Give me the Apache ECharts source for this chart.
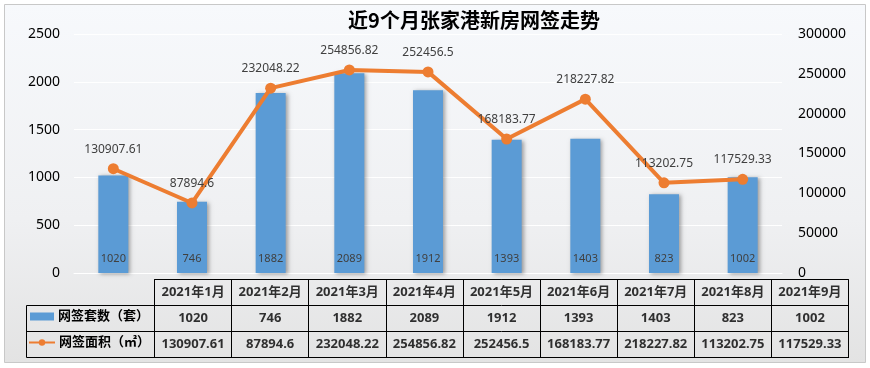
<!DOCTYPE html>
<html><head><meta charset="utf-8">
<script src="https://cdn.jsdelivr.net/npm/echarts@6/dist/echarts.min.js"></script>
<style>html,body{margin:0;padding:0;background:#fff}#c{width:870px;height:368px}</style>
</head><body><div id="c"></div>
<script>
const months = ['2021年1月','2021年2月','2021年3月','2021年4月','2021年5月','2021年6月','2021年7月','2021年8月','2021年9月'];
const counts = [1020, 746, 1882, 2089, 1912, 1393, 1403, 823, 1002];
const areas = [130907.61, 87894.6, 232048.22, 254856.82, 252456.5, 168183.77, 218227.82, 113202.75, 117529.33];
const leftTicks = {min: 0, max: 2500, interval: 500};
const rightTicks = {min: 0, max: 300000, interval: 50000};
const countName = '网签套数（套）';
const areaName = '网签面积（㎡）';
const titleText = '近9个月张家港新房网签走势';

const FONT = '"Noto Sans", "Noto Sans CJK SC", sans-serif';
const BLUE = '#5B9BD5', ORANGE = '#ED7D31';

// table cells (built from the arrays)
const tableRows = [months, counts, areas];
const tableData = [];
tableRows.forEach((row, r) => row.forEach((v, i) => tableData.push({value: [i, r, String(v)]})));

const chart = echarts.init(document.getElementById('c'), null, {renderer: 'canvas'});
chart.setOption({
  backgroundColor: '#ffffff',
  animation: false,
  title: {
    text: titleText, left: 469, top: 5, textAlign: 'center',
    textStyle: {fontFamily: '"Noto Sans CJK SC", serif', fontSize: 20, fontWeight: 'bold', color: '#000'}
  },
  graphic: [
    {type: 'rect', z: -10, shape: {x: 4.5, y: 4.5, width: 861, height: 358},
     style: {fill: new echarts.graphic.LinearGradient(0, 0, 0, 1, [
       {offset: 0, color: '#F7F9FC'}, {offset: 0.6, color: '#EFF0F2'}, {offset: 1, color: '#E3E3E3'}]),
       stroke: '#C8C8C8', lineWidth: 1}},
    {type: 'rect', z: 5, shape: {x: 26.5, y: 305.5, width: 128, height: 52},
     style: {fill: 'none', stroke: '#000', lineWidth: 1}},
    {type: 'line', z: 5, shape: {x1: 26.5, y1: 331.5, x2: 154.5, y2: 331.5},
     style: {stroke: '#000', lineWidth: 1}}
  ],
  legend: [
    {data: [{name: countName, icon: 'rect'}], left: 30, top: 310, padding: 0, itemWidth: 24, itemHeight: 8, itemGap: 4,
     textStyle: {fontFamily: FONT, fontSize: 13, fontWeight: 'bold', color: '#000', padding: [0, 0, 0, -1]}},
    {data: [{name: areaName}], left: 28, top: 336, padding: 0, itemWidth: 26, itemHeight: 8, itemGap: 4,
     textStyle: {fontFamily: FONT, fontSize: 13, fontWeight: 'bold', color: '#000', padding: [0, 0, 0, -1]}}
  ],
  grid: [
    {left: 74, right: 88, top: 34, bottom: 95, containLabel: false},
    {left: 154.5, right: 21.5, top: 279.5, height: 78, show: true, borderColor: '#000', borderWidth: 1, backgroundColor: 'transparent'}
  ],
  xAxis: [
    {type: 'category', gridIndex: 0, data: months, axisLabel: {show: false}, axisTick: {show: false},
     axisLine: {show: true, lineStyle: {color: '#FFFFFF', width: 1}}},
    {type: 'category', gridIndex: 1, data: months, axisLabel: {show: false}, axisTick: {show: false},
     axisLine: {show: true, lineStyle: {color: '#000'}},
     splitLine: {show: true, interval: 0, lineStyle: {color: '#000', width: 1}}}
  ],
  yAxis: [
    {type: 'value', gridIndex: 0, min: leftTicks.min, max: leftTicks.max, interval: leftTicks.interval,
     axisLine: {show: false}, axisTick: {show: false},
     axisLabel: {fontFamily: FONT, fontSize: 14, color: '#000', margin: 14, formatter: v => String(v)},
     splitLine: {show: true, lineStyle: {color: '#FFFFFF', width: 1}}},
    {type: 'value', gridIndex: 0, min: rightTicks.min, max: rightTicks.max, interval: rightTicks.interval, position: 'right',
     axisLine: {show: false}, axisTick: {show: false},
     axisLabel: {fontFamily: FONT, fontSize: 14, color: '#000', margin: 16, formatter: v => String(v)},
     splitLine: {show: false}},
    {type: 'category', gridIndex: 1, data: ['h', 'c', 'a'], inverse: true,
     axisLine: {show: false}, axisTick: {show: false}, axisLabel: {show: false},
     splitLine: {show: true, interval: 0, lineStyle: {color: '#000', width: 1}}}
  ],
  series: [
    {name: countName, type: 'bar', xAxisIndex: 0, yAxisIndex: 0, data: counts, barWidth: 30,
     itemStyle: {color: BLUE, shadowColor: 'rgba(0,0,0,0.35)', shadowBlur: 4, shadowOffsetX: 2, shadowOffsetY: 1},
     label: {show: true, position: 'insideBottom', distance: 9, fontFamily: FONT, fontSize: 11, color: '#404040'}},
    {name: areaName, type: 'line', xAxisIndex: 0, yAxisIndex: 1, data: areas, z: 3,
     symbol: 'circle', symbolSize: 11,
     lineStyle: {color: ORANGE, width: 4}, itemStyle: {color: ORANGE},
     label: {show: true, position: 'top', distance: 8, fontFamily: FONT, fontSize: 12, color: '#404040'}},
    {type: 'scatter', xAxisIndex: 1, yAxisIndex: 2, data: tableData, symbolSize: 0, silent: true,
     label: {show: true, position: 'inside', formatter: p => p.value[2], fontFamily: FONT, fontSize: 13, fontWeight: 'bold', color: '#000'}}
  ]
});
</script></body></html>
